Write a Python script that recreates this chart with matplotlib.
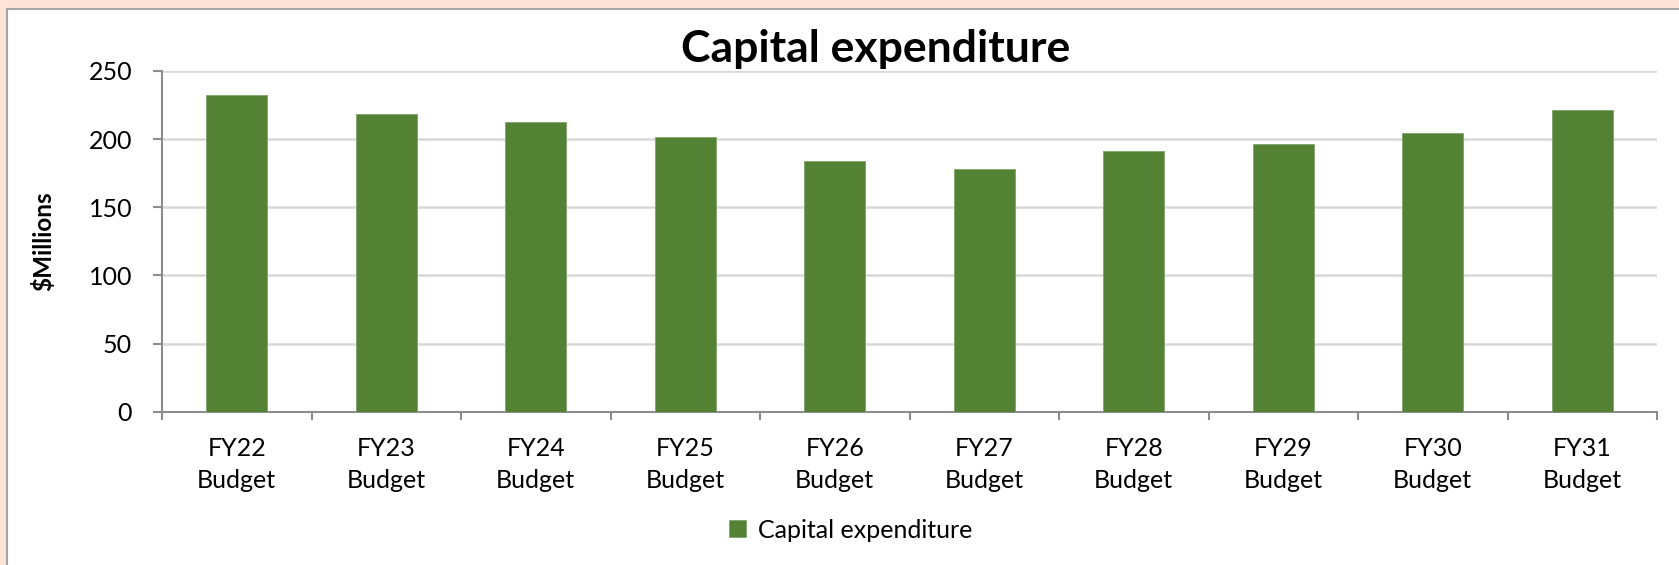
import matplotlib.pyplot as plt
from matplotlib.patches import Rectangle, Patch

# values
categories = ['FY22\nBudget', 'FY23\nBudget', 'FY24\nBudget', 'FY25\nBudget', 'FY26\nBudget',
              'FY27\nBudget', 'FY28\nBudget', 'FY29\nBudget', 'FY30\nBudget', 'FY31\nBudget']
capex = [232.7, 218.8, 212.9, 201.9, 184.0, 178.2, 191.4, 196.3, 204.8, 221.2]
yticks = [0, 50, 100, 150, 200, 250]

plt.rcParams['font.family'] = ['Lato', 'DejaVu Sans']

W, H = 1679, 565
fig = plt.figure(figsize=(W / 100, H / 100), dpi=100)
fig.patch.set_facecolor('#FDE4D8')

# white chart panel with grey border (runs off the right and bottom edges)
panel = Rectangle((7 / W, -0.05), 1.1, (H - 9) / H + 0.05, transform=fig.transFigure,
                  facecolor='white', edgecolor='#A6A6A6', linewidth=1.5, zorder=-10)
fig.patches.append(panel)

ax = fig.add_axes([162 / W, 1 - 411.7 / H, (1657 - 162) / W, (411.7 - 71) / H])
ax.set_facecolor('none')

x = range(len(categories))
ax.bar(x, capex, width=0.41, color='#548235', edgecolor='#7FA36A', linewidth=0.6, zorder=3)

ax.set_ylim(0, 250)
ax.set_xlim(-0.5, len(categories) - 0.5)
ax.set_yticks(yticks)
ax.set_xticks(list(x))
ax.set_xticklabels(categories, fontsize=18, linespacing=1.5)
ax.set_xticks([i - 0.5 for i in range(len(categories) + 1)], minor=True)

ax.yaxis.grid(True, color='#D9D9D9', linewidth=1.8, zorder=0)
ax.set_axisbelow(True)

for s in ['top', 'right']:
    ax.spines[s].set_visible(False)
for s in ['left', 'bottom']:
    ax.spines[s].set_color('#8C8C8C')
    ax.spines[s].set_linewidth(1.5)

ax.tick_params(axis='y', length=6.5, width=1.5, color='#8C8C8C', labelsize=18, pad=15)
ax.tick_params(axis='x', which='major', length=0, pad=18)
ax.tick_params(axis='x', which='minor', length=5.5, width=1.5, color='#8C8C8C')

fig.text(43 / W, 1 - 241 / H, '$Millions', rotation=90, fontsize=17.5, fontweight='bold',
         ha='center', va='center')
fig.text(876 / W, 1 - 62 / H, 'Capital expenditure', fontsize=32, fontweight='bold',
         ha='center', va='baseline')

handle = Patch(facecolor='#548235', edgecolor='#7FA36A', linewidth=0.6)
fig.legend([handle], ['Capital expenditure'], loc='center', bbox_to_anchor=(851 / W, 1 - 530 / H),
           frameon=False, fontsize=18, handlelength=0.65, handleheight=0.65, handletextpad=0.5)

fig.savefig('out.png', dpi=100, facecolor=fig.get_facecolor())
